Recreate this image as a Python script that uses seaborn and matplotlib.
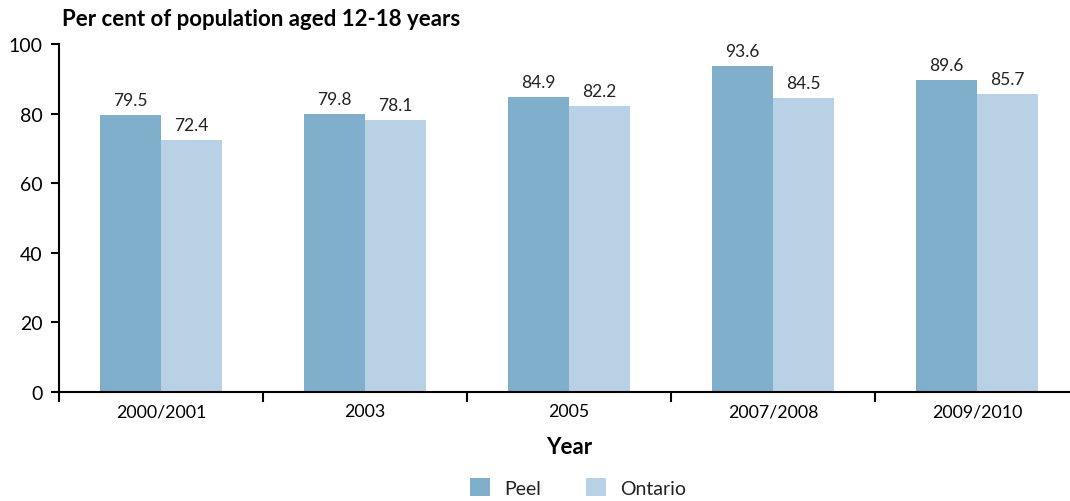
import matplotlib
matplotlib.use("Agg")
import matplotlib.pyplot as plt
from matplotlib.patches import Patch
import seaborn as sns
import pandas as pd

years = ["2000/2001", "2003", "2005", "2007/2008", "2009/2010"]
peel = [79.5, 79.8, 84.9, 93.6, 89.6]
ontario = [72.4, 78.1, 82.2, 84.5, 85.7]
regions = ["Peel", "Ontario"]
colors = ["#7FAFCB", "#B9D1E4"]

df = pd.DataFrame({
    "Year": years * 2,
    "Region": [regions[0]] * len(years) + [regions[1]] * len(years),
    "Value": peel + ontario,
})

sns.set_theme(style="white")
plt.rcParams["font.family"] = ["Lato", "DejaVu Sans"]

fig = plt.figure(figsize=(10.7, 5.02), dpi=100)
ax = fig.add_axes([0.0551, 0.2171, 0.9533, 0.6932])

sns.barplot(data=df, x="Year", y="Value", hue="Region", order=years,
            hue_order=regions, palette=colors, width=0.6, saturation=1,
            errorbar=None, ax=ax, legend=False, linewidth=0)

for cont in ax.containers:
    ax.bar_label(cont, fmt="%.1f", padding=5, fontsize=12.5, color="#222222")

ax.set_ylim(0, 100)
ax.set_xlim(-0.5, len(years) - 0.5)
ax.set_yticks([0, 20, 40, 60, 80, 100])
ax.tick_params(axis="y", direction="out", length=6, width=1.5, color="black",
               labelsize=14, left=True, pad=6, labelcolor="black")
ax.set_xticks(range(len(years)))
ax.set_xticklabels(years, fontsize=12.8, color="black")
ax.tick_params(axis="x", length=0, pad=8)
ax.set_xticks([i - 0.5 for i in range(len(years) + 1)], minor=True)
ax.tick_params(axis="x", which="minor", direction="out", length=7, width=1.5,
               color="black", bottom=True)

for s in ["top", "right"]:
    ax.spines[s].set_visible(False)
for s in ["left", "bottom"]:
    ax.spines[s].set_color("black")
    ax.spines[s].set_linewidth(1.5)

ax.set_ylabel("")
ax.set_xlabel("Year", fontsize=16, fontweight="bold", labelpad=12, color="black")

fig.text(0.058, 0.962, "Per cent of population aged 12-18 years",
         fontsize=16, fontweight="bold", ha="left", va="center", color="black")

handles = [Patch(facecolor=c, edgecolor="none") for c in colors]
fig.legend(handles, regions, loc="center", bbox_to_anchor=(0.540, 0.027),
           ncol=2, frameon=False, fontsize=14, handlelength=1.05,
           handleheight=1.05, columnspacing=2.3, handletextpad=0.7,
           labelcolor="#222222")

fig.savefig("out.png", dpi=100)
